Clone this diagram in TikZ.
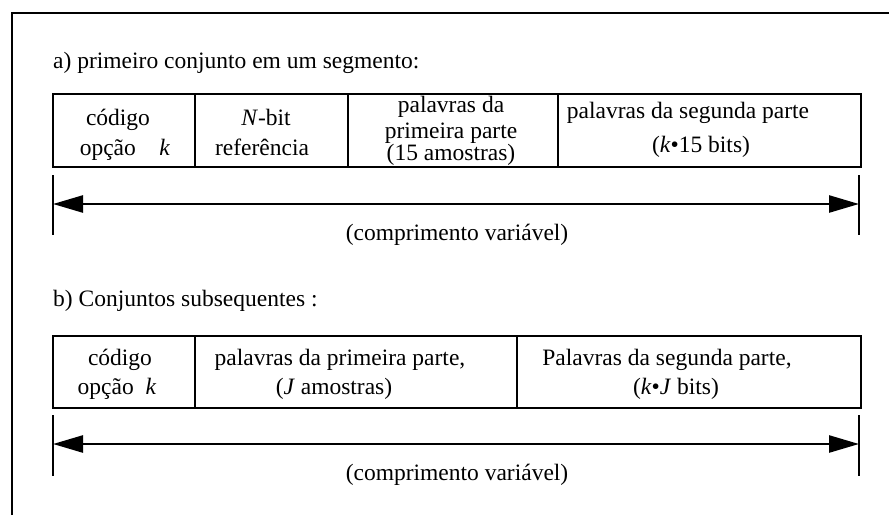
\documentclass[tikz,border=0pt]{standalone}
\usepackage{fontspec}
\setmainfont{Liberation Serif}
\usetikzlibrary{arrows.meta}
\begin{document}
\begin{tikzpicture}[x=1pt,y=-1pt,
  txt/.style={anchor=base, inner sep=0pt, font=\fontsize{23.5}{28}\selectfont},
  frameline/.style={line width=2pt},
  cell/.style={draw, line width=2pt, minimum height=73pt, inner sep=0pt, anchor=north west},
  dimline/.style={line width=2.5pt, {Triangle[length=30pt,width=17pt]}-{Triangle[length=30pt,width=17pt]}},
  tickline/.style={line width=2.5pt}]
\useasboundingbox (0,0) rectangle (889,515);
\coordinate (fbl) at (12,515);
\coordinate (ftl) at (12,13);
\coordinate (ftr) at (889,13);
\draw[frameline] (fbl) -- (ftl) -- (ftr);

% ---------- part a ----------
\node[txt, anchor=base west] (ha) at (53,68) {a) primeiro conjunto em um segmento:};
\node[cell, minimum width=142pt] (a1) at (52,93) {};
\node[cell, minimum width=153pt] (a2) at (194,93) {};
\node[cell, minimum width=210pt] (a3) at (347,93) {};
\node[cell, minimum width=303pt] (a4) at (557,93) {};

\node[txt] (a1l1) at (118,125) {código};
\node[txt] (a1l2) at (125,155) {opção\quad\textit{k}};
\node[txt] (a2l1) at (266,125) {\textit{N}-bit};
\node[txt] (a2l2) at (262,155) {referência};
\node[txt] (a3l1) at (451,112) {palavras da};
\node[txt] (a3l2) at (451,138) {primeira parte};
\node[txt] (a3l3) at (451,160) {(15 amostras)};
\node[txt] (a4l1) at (688,118) {palavras da segunda parte};
\node[txt] (a4l2) at (701,152) {(\textit{k}•15 bits)};

\coordinate (ta1) at (53,175);
\coordinate (ta2) at (53,235);
\coordinate (ta3) at (859,175);
\coordinate (ta4) at (859,235);
\coordinate (aL) at (53,204);
\coordinate (aR) at (859,204);
\draw[tickline] (ta1) -- (ta2);
\draw[tickline] (ta3) -- (ta4);
\draw[dimline] (aL) -- (aR);
\node[txt] (la) at (457,240) {(comprimento variável)};

% ---------- part b ----------
\node[txt, anchor=base west] (hb) at (53,306) {b) Conjuntos subsequentes :};
\node[cell, minimum width=142pt, minimum height=72pt] (b1) at (52,335) {};
\node[cell, minimum width=322pt, minimum height=72pt] (b2) at (194,335) {};
\node[cell, minimum width=344pt, minimum height=72pt] (b3) at (516,335) {};

\node[txt] (b1l1) at (120,365) {código};
\node[txt] (b1l2) at (117,394) {opção\enspace\textit{k}};
\node[txt] (b2l1) at (340,365) {palavras da primeira parte,};
\node[txt] (b2l2) at (334,394) {(\textit{J} amostras)};
\node[txt] (b3l1) at (667,365) {Palavras da segunda parte,};
\node[txt] (b3l2) at (676,394) {(\textit{k}•\textit{J} bits)};

\coordinate (tb1) at (53,415);
\coordinate (tb2) at (53,476);
\coordinate (tb3) at (859,415);
\coordinate (tb4) at (859,476);
\coordinate (bL) at (53,444);
\coordinate (bR) at (859,444);
\draw[tickline] (tb1) -- (tb2);
\draw[tickline] (tb3) -- (tb4);
\draw[dimline] (bL) -- (bR);
\node[txt] (lb) at (457,480) {(comprimento variável)};
\end{tikzpicture}
\end{document}
